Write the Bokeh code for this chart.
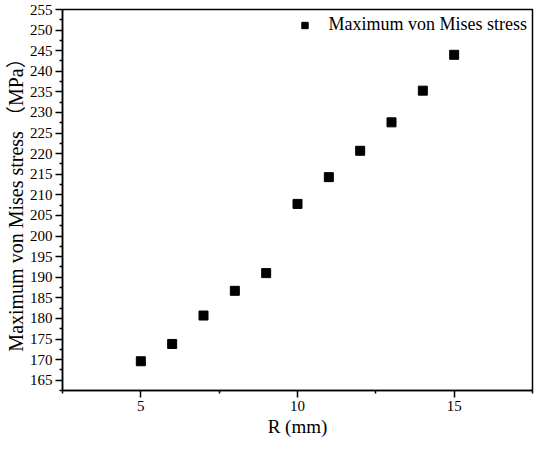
from bokeh.plotting import figure
from bokeh.models import FixedTicker, Range1d, Legend, LegendItem
from bokeh.embed import file_html
from bokeh.resources import INLINE

# Data
R_mm = [5, 6, 7, 8, 9, 10, 11, 12, 13, 14, 15]
max_stress = [169.6, 173.8, 180.7, 186.7, 191.0, 207.8, 214.3, 220.7, 227.6, 235.3, 244.0]
series_name = "Maximum von Mises stress"

x_ticks = [5, 10, 15]
x_minor = [2.5, 7.5, 12.5, 17.5]
y_ticks = [165, 170, 175, 180, 185, 190, 195, 200, 205, 210, 215, 220, 225, 230, 235, 240, 245, 250, 255]
y_minor = [162.5, 167.5, 172.5, 177.5, 182.5, 187.5, 192.5, 197.5, 202.5, 207.5, 212.5,
           217.5, 222.5, 227.5, 232.5, 237.5, 242.5, 247.5, 252.5]

FONT = "Liberation Serif"
LABEL_FONT = "Liberation Serif, Noto Sans CJK SC"

p = figure(width=534, height=449, output_backend="svg", toolbar_location=None,
           x_range=Range1d(2.5, 17.5), y_range=Range1d(162.5, 255),
           min_border_left=62, min_border_right=2, min_border_top=9, min_border_bottom=59)

p.background_fill_color = "white"
p.border_fill_color = "white"
p.outline_line_color = "black"
p.outline_line_width = 1.5
p.xgrid.visible = False
p.ygrid.visible = False

r = p.scatter(R_mm, max_stress, marker="square", size=9, fill_color="black", line_color="black")

for ax in (p.xaxis[0], p.yaxis[0]):
    ax.axis_line_width = 1.5
    ax.major_tick_line_width = 1.5
    ax.minor_tick_line_width = 1.5
    ax.major_tick_in = 0
    ax.major_tick_out = 7
    ax.minor_tick_in = 0
    ax.minor_tick_out = 3
    ax.major_label_text_font = FONT
    ax.axis_label_text_font = LABEL_FONT
    ax.axis_label_text_font_style = "normal"
    ax.major_label_text_color = "black"
    ax.axis_label_text_color = "black"

p.xaxis[0].ticker = FixedTicker(ticks=x_ticks, minor_ticks=x_minor)
p.yaxis[0].ticker = FixedTicker(ticks=y_ticks, minor_ticks=y_minor)
p.xaxis[0].major_label_text_font_size = "15px"
p.yaxis[0].major_label_text_font_size = "15px"
p.xaxis[0].axis_label = "R (mm)"
p.yaxis[0].axis_label = "Maximum von Mises stress （MPa）"
p.xaxis[0].axis_label_text_font_size = "19px"
p.yaxis[0].axis_label_text_font_size = "20px"
p.xaxis[0].major_label_standoff = 3
p.yaxis[0].major_label_standoff = 3
p.xaxis[0].axis_label_standoff = 2
p.yaxis[0].axis_label_standoff = 0

legend = Legend(items=[LegendItem(label=series_name, renderers=[r])],
                location="top_right")
legend.border_line_color = None
legend.background_fill_alpha = 0
legend.margin = 5
legend.padding = 5
legend.glyph_width = 16
legend.glyph_height = 20
legend.label_standoff = 16
legend.label_text_font = FONT
legend.label_text_font_size = "18px"
legend.label_text_color = "black"
p.add_layout(legend)

open("out.html", "w").write(file_html(p, INLINE))
